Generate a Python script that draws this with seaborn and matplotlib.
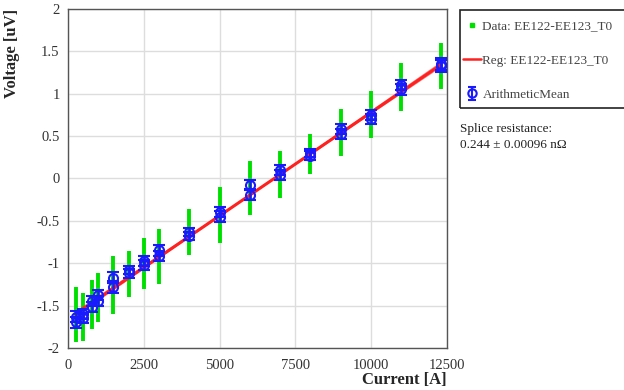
import numpy as np
import pandas as pd
import matplotlib
matplotlib.use("Agg")
import matplotlib.pyplot as plt
import seaborn as sns
from matplotlib.ticker import MultipleLocator
from matplotlib.lines import Line2D
from matplotlib.patches import Rectangle

# ---- data ----
currents = [250, 500, 800, 1000, 1500, 2000, 2500, 3000, 4000, 5000,
            6000, 7000, 8000, 9000, 10000, 11000, 12300]
mean_a = [-1.63, -1.60, -1.45, -1.38, -1.17, -1.08, -0.97, -0.85, -0.63, -0.40,
          -0.08, 0.10, 0.30, 0.58, 0.75, 1.10, 1.35]
mean_b = [-1.70, -1.65, -1.52, -1.45, -1.28, -1.12, -1.02, -0.92, -0.68, -0.45,
          -0.19, 0.04, 0.27, 0.52, 0.70, 1.05, 1.33]
mean_err = [0.06, 0.06, 0.06, 0.06, 0.07, 0.05, 0.06, 0.06, 0.05, 0.06,
            0.06, 0.06, 0.05, 0.06, 0.06, 0.06, 0.07]
data_lo = [-1.93, -1.92, -1.78, -1.70, -1.60, -1.40, -1.30, -1.25, -0.90, -0.76,
           -0.43, -0.23, 0.05, 0.27, 0.48, 0.80, 1.05]
data_hi = [-1.28, -1.35, -1.20, -1.12, -0.92, -0.86, -0.70, -0.60, -0.36, -0.10,
           0.20, 0.32, 0.53, 0.82, 1.03, 1.36, 1.60]
reg_x = [250, 12300]
reg_y = [-1.60, 1.34]
reg_band = 0.025

x_ticks = [0, 2500, 5000, 7500, 10000, 12500]
y_ticks = [-2, -1.5, -1, -0.5, 0, 0.5, 1, 1.5, 2]

legend_labels = ["Data: EE122-EE123_T0", "Reg: EE122-EE123_T0", "ArithmeticMean"]
note_text = "Splice resistance:\n0.244 \u00b1 0.00096 n\u03a9"

# ---- plotting ----
sns.set_style("white")
plt.rcParams['font.family'] = ['Liberation Serif', 'DejaVu Serif']

fig = plt.figure(figsize=(6.24, 3.9), dpi=100)
ax = fig.add_axes([0.109, 0.108, 0.607, 0.869])

green = "#00e000"
blue = "#1a1aff"
red = "#ff2020"

# green data spread
ax.vlines(currents, data_lo, data_hi, colors=green, linewidth=2.8, zorder=2)

# regression line with slight band
reg_df = pd.DataFrame({"I": reg_x, "V": reg_y})
sns.lineplot(data=reg_df, x="I", y="V", ax=ax, color=red, linewidth=2.2, zorder=3)
ax.plot(reg_x, [reg_y[0] + reg_band, reg_y[1] - reg_band], color=red, lw=0.8, alpha=0.6, zorder=3)
ax.plot(reg_x, [reg_y[0] - reg_band, reg_y[1] + reg_band], color=red, lw=0.8, alpha=0.6, zorder=3)

# arithmetic means
for m in (mean_a, mean_b):
    ax.errorbar(currents, m, yerr=mean_err, fmt="o", mfc="none", mec=blue,
                ms=6.5, mew=1.5, ecolor=blue, elinewidth=1.8, capsize=4.5,
                capthick=1.8, zorder=4)

ax.set_xlim(0, 12500)
ax.set_ylim(-2, 2)
ax.set_xticks(x_ticks)
ax.set_yticks(y_ticks)
ax.set_yticklabels([f"{v:g}" for v in y_ticks])
ax.xaxis.set_minor_locator(MultipleLocator(500))
ax.yaxis.set_minor_locator(MultipleLocator(0.1))
ax.tick_params(axis="both", which="major", direction="in", length=6, width=0.8,
               colors="#333333", labelsize=10.5, labelcolor="#333333", pad=6)
ax.tick_params(axis="both", which="minor", direction="in", length=3, width=0.8,
               colors="#333333")
ax.tick_params(axis="x", pad=8)
ax.grid(True, which="major", color="#dddddd", linewidth=1.0)
ax.set_axisbelow(True)
for s in ax.spines.values():
    s.set_color("#555555")
    s.set_linewidth(1.0)

ax.set_xlabel("Current [A]", fontsize=12, fontweight="bold", loc="right", labelpad=0)
ax.set_ylabel("Voltage [uV]", fontsize=12, fontweight="bold", loc="top", labelpad=12)

eb = ax.errorbar([np.nan], [np.nan], yerr=[0.1], fmt="o", mfc="none", mec=blue,
                 ms=6, mew=1.5, ecolor=blue, capsize=3, elinewidth=1.5)
handles = [
    Line2D([], [], marker="s", ls="none", color=green, ms=2.2),
    Line2D([], [], color=red, lw=1.8),
    eb,
]
# legend frame
fig.patches.append(Rectangle((460 / 624, 1 - 108 / 390), 0.3, 98 / 390,
                             transform=fig.transFigure, fill=False,
                             edgecolor="#222222", linewidth=1.2, zorder=1))
leg = fig.legend(handles, legend_labels, loc="upper left",
                 bbox_to_anchor=(463 / 624, 1 - 20 / 390), frameon=False,
                 fontsize=9.5, handlelength=1.35, handletextpad=0.12,
                 labelspacing=1.68, borderpad=0, borderaxespad=0)
for t in leg.get_texts():
    t.set_color("#444444")

fig.text(460 / 624, 0.684, note_text, fontsize=9.5, color="#222222", va="top",
         ha="left", linespacing=1.45)

fig.savefig("out.png", dpi=100)
